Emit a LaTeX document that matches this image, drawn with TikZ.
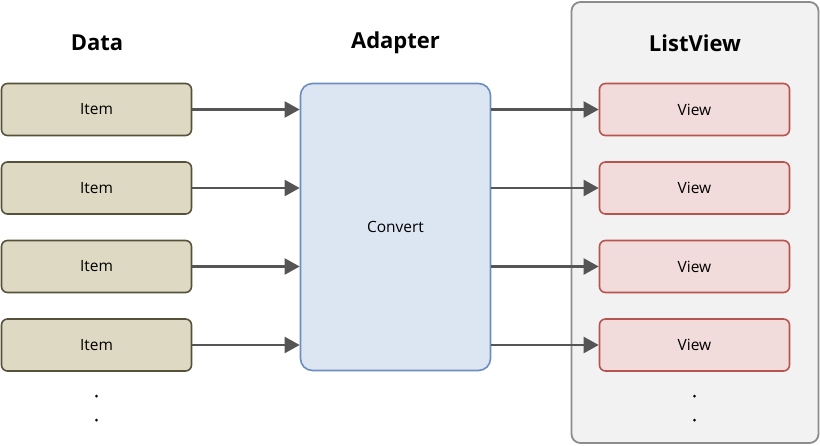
\documentclass[tikz,border=0pt]{standalone}
\usepackage{fontspec}
\setmainfont{Open Sans}
\usepackage{tikz}
\usetikzlibrary{positioning}
\usetikzlibrary{arrows.meta}

\definecolor{itemfill}{HTML}{DDD9C3}
\definecolor{itemline}{HTML}{55513A}
\definecolor{adapterfill}{HTML}{DCE6F2}
\definecolor{adapterline}{HTML}{6C8EBF}
\definecolor{viewfill}{HTML}{F2DCDB}
\definecolor{viewline}{HTML}{B85450}
\definecolor{panelfill}{HTML}{F2F2F2}
\definecolor{panelline}{HTML}{8C8C8C}
\definecolor{linkgray}{HTML}{555555}

\tikzset{
  item/.style={draw=itemline, fill=itemfill, line width=1.6pt, rounded corners=6pt,
    minimum width=190pt, minimum height=52pt, font=\fontsize{15.5}{18}\selectfont},
  adapterbox/.style={draw=adapterline, fill=adapterfill, line width=1.6pt, rounded corners=12pt,
    minimum width=190pt, minimum height=287pt, font=\fontsize{15.5}{18}\selectfont},
  viewbox/.style={draw=viewline, fill=viewfill, line width=1.6pt, rounded corners=6pt,
    minimum width=190pt, minimum height=52pt, font=\fontsize{15.5}{18}\selectfont},
  panel/.style={draw=panelline, fill=panelfill, line width=1.8pt, rounded corners=9pt,
    minimum width=247pt, minimum height=441pt},
  heading/.style={font=\fontsize{22}{26}\bfseries\selectfont},
  dot/.style={circle, fill=black, inner sep=0pt, minimum size=3pt},
  link/.style={draw=linkgray, line width=2.2pt}
}

\begin{document}
\begin{tikzpicture}[x=1pt,y=-1pt,->,>={Triangle[length=15pt,width=16pt]},node distance=78.5pt]
        \useasboundingbox (0,0) rectangle (820,445);
        \node[panel] (list) at (695,222.5) {};

        \node[heading] (data) at (97,43) {Data};
        \node[heading] (adapt) at (395.5,43) {Adapter};
        \node[heading] (lv) at (695,43) {ListView};

        \node[item] (i1) at (96.5,109.5) {Item};
        \node[item] (i2) [below of=i1] {Item};
        \node[item] (i3) [below of=i2] {Item};
        \node[item] (i4) [below of=i3] {Item};

        \node[adapterbox] (adapter) at (395.5,227) {Convert};

        \node[viewbox] (v1) at (694.5,109.5) {View};
        \node[viewbox] (v2) [below of=v1] {View};
        \node[viewbox] (v3) [below of=v2] {View};
        \node[viewbox] (v4) [below of=v3] {View};

        \node[dot] (d1) at (96.5,396) {};
        \node[dot] (d2) at (96.5,420) {};
        \node[dot] (d3) at (694.5,396) {};
        \node[dot] (d4) at (694.5,420) {};

        \path (i1) edge[link] (i1 -| adapter.west);
        \path (i2) edge[link] (i2 -| adapter.west);
        \path (i3) edge[link] (i3 -| adapter.west);
        \path (i4) edge[link] (i4 -| adapter.west);
        \path (v1 -| adapter.east) edge[link] (v1);
        \path (v2 -| adapter.east) edge[link] (v2);
        \path (v3 -| adapter.east) edge[link] (v3);
        \path (v4 -| adapter.east) edge[link] (v4);
    \end{tikzpicture}
\end{document}
